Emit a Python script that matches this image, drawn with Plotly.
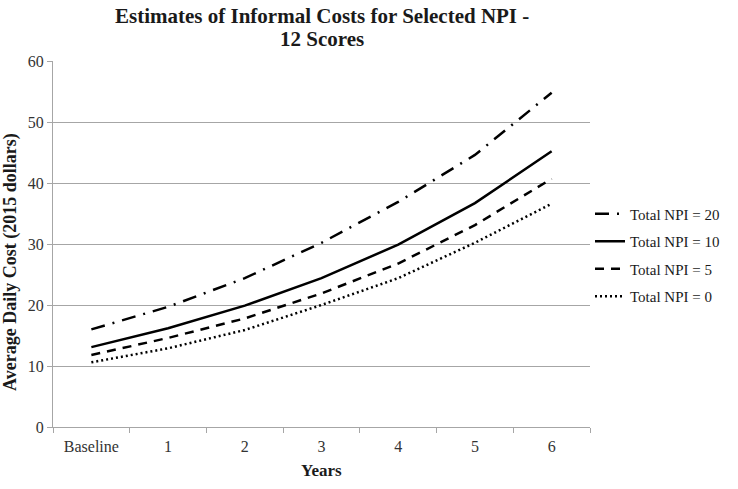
import plotly.graph_objects as go

# Years on the x axis (categorical)
years = ["Baseline", "1", "2", "3", "4", "5", "6"]

# Average daily cost in 2015 dollars
npi_20 = [16.0, 19.7, 24.4, 30.2, 36.9, 44.6, 54.8]
npi_10 = [13.1, 16.2, 19.9, 24.4, 29.9, 36.7, 45.2]
npi_5 = [11.8, 14.6, 17.8, 21.9, 26.8, 33.1, 40.7]
npi_0 = [10.6, 12.9, 15.9, 20.0, 24.4, 30.2, 36.6]

series_names = ["Total NPI = 20", "Total NPI = 10", "Total NPI = 5", "Total NPI = 0"]

title_lines = ["Estimates of Informal Costs for Selected NPI -", "12 Scores"]
x_title = "Years"
y_title = "Average Daily Cost (2015 dollars)"

serif = "Liberation Serif"

fig = go.Figure()

# line styles copied from the Excel-like original
fig.add_trace(go.Scatter(x=years, y=npi_20, mode="lines", name=series_names[0], legendgroup="a",
                         line=dict(color="black", width=2.5, dash="14px,8px,2px,8px")))
fig.add_trace(go.Scatter(x=years, y=npi_10, mode="lines", name=series_names[1], legendgroup="b",
                         line=dict(color="black", width=2.5)))
fig.add_trace(go.Scatter(x=years, y=npi_5, mode="lines", name=series_names[2], legendgroup="c",
                         line=dict(color="black", width=2.5, dash="9px,7px")))
fig.add_trace(go.Scatter(x=years, y=npi_0, mode="lines", name=series_names[3], legendgroup="d",
                         line=dict(color="black", width=2.5, dash="2px,3px")))

fig.update_layout(
    width=738,
    height=489,
    paper_bgcolor="white",
    plot_bgcolor="white",
    margin=dict(l=53, r=148, t=61, b=62),
    showlegend=True,
    legend=dict(
        x=1.0, xanchor="left", y=0.47, yanchor="middle",
        font=dict(family=serif, size=15, color="#1a1a1a"),
        bgcolor="rgba(0,0,0,0)",
        tracegroupgap=5,
    ),
    font=dict(family=serif, size=14, color="#333333"),
)

# title and axis titles as annotations so they sit where the original has them
fig.add_annotation(text="<b>%s</b>" % title_lines[0], xref="paper", yref="paper",
                   x=0.5, y=1.123, xanchor="center", yanchor="middle", showarrow=False,
                   font=dict(family=serif, size=21, color="#1a1a1a"))
fig.add_annotation(text="<b>%s</b>" % title_lines[1], xref="paper", yref="paper",
                   x=0.5, y=1.0601, xanchor="center", yanchor="middle", showarrow=False,
                   font=dict(family=serif, size=21, color="#1a1a1a"))
fig.add_annotation(text="<b>%s</b>" % x_title, xref="paper", yref="paper",
                   x=0.5, y=-0.1202, xanchor="center", yanchor="middle", showarrow=False,
                   font=dict(family=serif, size=17, color="#1a1a1a"))
fig.add_annotation(text="<b>%s</b>" % y_title, xref="paper", yref="paper",
                   x=-0.0782, y=0.451, xanchor="center", yanchor="middle", showarrow=False,
                   textangle=-90, font=dict(family=serif, size=18, color="#1a1a1a"))

fig.update_xaxes(
    type="category",
    range=[-0.5, 6.5],
    automargin=False,
    showgrid=False,
    showline=True, linecolor="#a6a6a6", linewidth=1,
    ticks="outside", tickson="boundaries", ticklen=5, tickcolor="#a6a6a6",
    ticklabelstandoff=5,
    tickfont=dict(family=serif, size=16, color="#333333"),
)

fig.update_yaxes(
    range=[0, 60], dtick=10,
    automargin=False,
    showgrid=True, gridcolor="#a6a6a6", gridwidth=1,
    showline=True, linecolor="#a6a6a6", linewidth=1,
    ticks="outside", ticklen=5, tickcolor="#a6a6a6",
    zeroline=False,
    tickfont=dict(family=serif, size=16, color="#333333"),
)

# drop the default 8px page margin so the chart fills the window like the original
fig.write_html("out.html", config={"displayModeBar": False},
               post_script="document.body.style.margin='0';")
